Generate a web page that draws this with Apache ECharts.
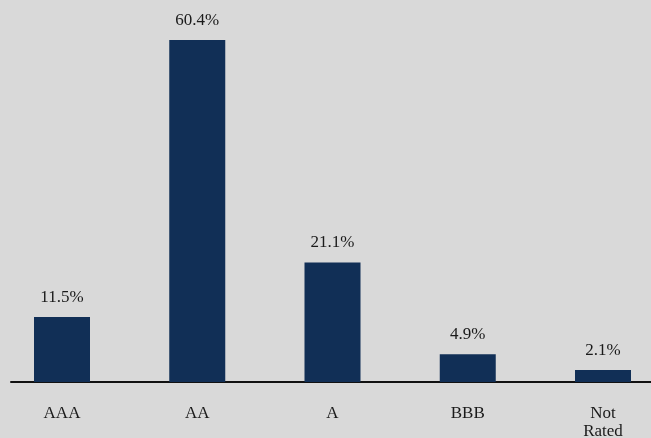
<!DOCTYPE html>
<html><head><meta charset="utf-8">
<script src="https://cdn.jsdelivr.net/npm/echarts@6/dist/echarts.min.js"></script>
<style>html,body{margin:0;padding:0;background:#d9d9d9;}#c{width:651px;height:438px;}</style>
</head><body><div id="c"></div>
<script>
const categories = ['AAA', 'AA', 'A', 'BBB', 'Not\nRated'];
const values = [11.5, 60.4, 21.1, 4.9, 2.1];

const chart = echarts.init(document.getElementById('c'), null, {renderer: 'canvas'});
const font = 'Liberation Serif';
chart.setOption({
  backgroundColor: '#d9d9d9',
  animation: false,
  grid: [
    {left: 62, width: 541, top: 40, bottom: 56, containLabel: false, outerBoundsMode: 'none'},
    {left: 11, right: 0, top: 40, bottom: 56, containLabel: false, outerBoundsMode: 'none'}
  ],
  xAxis: [
    {type: 'category', gridIndex: 0, data: categories, boundaryGap: false,
     axisLine: {show: false}, axisTick: {show: false},
     axisLabel: {margin: 23, color: '#1a1a1a', fontFamily: font, fontSize: 17, lineHeight: 18}},
    {type: 'category', gridIndex: 1, data: [''],
     axisLine: {show: true, lineStyle: {color: '#111', width: 2}},
     axisTick: {show: false}, axisLabel: {show: false}}
  ],
  yAxis: [
    {type: 'value', gridIndex: 0, min: 0, max: 60.4, show: false},
    {type: 'value', gridIndex: 1, min: 0, max: 60.4, show: false}
  ],
  series: [{
    type: 'bar', xAxisIndex: 0, yAxisIndex: 0, data: values, barWidth: 56,
    itemStyle: {color: '#112f56'},
    label: {show: true, position: 'top', distance: 11, color: '#1a1a1a',
            fontFamily: font, fontSize: 17, formatter: p => p.value.toFixed(1) + '%'}
  }]
});
</script></body></html>
